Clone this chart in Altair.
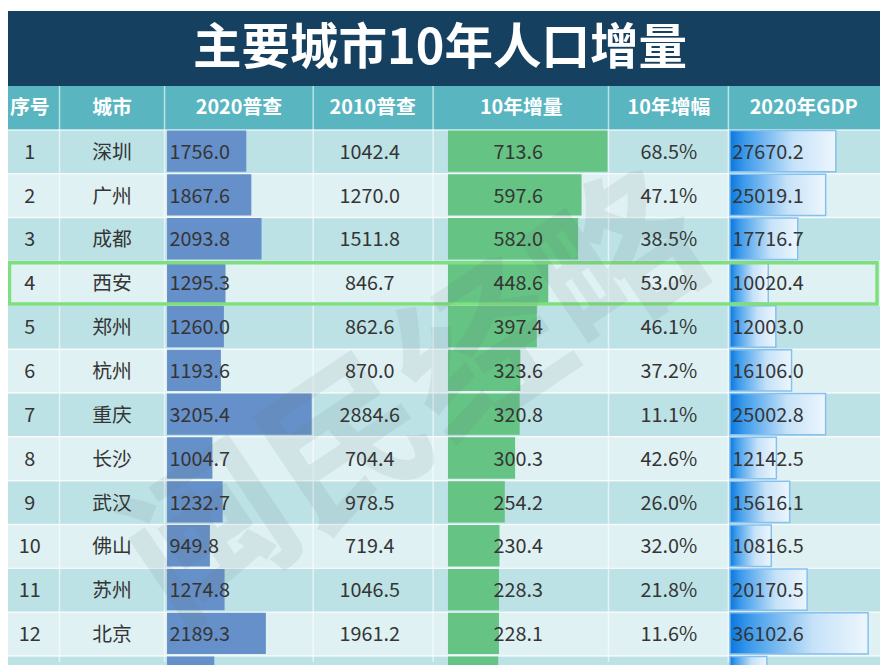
import altair as alt
import pandas as pd

# ---------------- data ----------------
TITLE = "主要城市10年人口增量"
HEADERS = ["序号", "城市", "2020普查", "2010普查", "10年增量", "10年增幅", "2020年GDP"]
RANKS = [1, 2, 3, 4, 5, 6, 7, 8, 9, 10, 11, 12, 13]
CITIES = ["深圳", "广州", "成都", "西安", "郑州", "杭州", "重庆", "长沙", "武汉", "佛山", "苏州", "北京", "东莞"]
POP2020 = [1756.0, 1867.6, 2093.8, 1295.3, 1260.0, 1193.6, 3205.4, 1004.7, 1232.7, 949.8, 1274.8, 2189.3, 1046.7]
POP2010 = [1042.4, 1270.0, 1511.8, 846.7, 862.6, 870.0, 2884.6, 704.4, 978.5, 719.4, 1046.5, 1961.2, 822.0]
INCREASE = [713.6, 597.6, 582.0, 448.6, 397.4, 323.6, 320.8, 300.3, 254.2, 230.4, 228.3, 228.1, 224.7]
GROWTH = [68.5, 47.1, 38.5, 53.0, 46.1, 37.2, 11.1, 42.6, 26.0, 32.0, 21.8, 11.6, 27.3]
GDP = [27670.2, 25019.1, 17716.7, 10020.4, 12003.0, 16106.0, 25002.8, 12142.5, 15616.1, 10816.5, 20170.5, 36102.6, 9650.2]
HIGHLIGHT_RANK = 4
VISIBLE_TEXT_ROWS = 12
WATERMARK = "闽民经略"

# ---------------- layout / style ----------------
W, H = 880, 657
ROW_H = 44.25
TOP = 75.75
YMIN = -TOP / ROW_H
YMAX = (H - TOP) / ROW_H
YS = alt.Scale(domain=[YMIN, YMAX], range=[0, H], zero=False, nice=False)
XL = alt.Scale(domain=[0, W], range=[0, W], zero=False, nice=False)

FONT = "Noto Sans CJK SC"
NAVY = "#16405f"
TEAL = "#59b6c1"
ROW_DARK = "#bde2e6"
ROW_LIGHT = "#dff1f3"
TXT = "#353535"

COL_EDGES = [52, 158, 308, 429, 606, 727]
HEADER_X = [22, 105, 233, 368, 518, 667, 803]

df = pd.DataFrame({
    "rank": RANKS, "city": CITIES, "pop2020": POP2020, "pop2010": POP2010,
    "inc": INCREASE, "pct": GROWTH, "gdp": GDP,
})
df["v"] = df["rank"] + 0.5
df["b0"] = df["rank"] + 0.012
df["b1"] = df["rank"] + 0.955
df["zero"] = 0.0
df["t2020"] = df["pop2020"].map(lambda v: f"{v:.1f}")
df["t2010"] = df["pop2010"].map(lambda v: f"{v:.1f}")
df["tinc"] = df["inc"].map(lambda v: f"{v:.1f}")
df["tpct"] = df["pct"].map(lambda v: f"{v:.1f}%")
df["tgdp"] = df["gdp"].map(lambda v: f"{v:.1f}")
df["rk"] = df["rank"].astype(str)

bands = pd.DataFrame(
    [{"v0": YMIN, "v1": 0, "fill": NAVY}, {"v0": 0, "v1": 1, "fill": TEAL}]
    + [{"v0": r, "v1": r + 1, "fill": ROW_DARK if r % 2 == 1 else ROW_LIGHT} for r in RANKS]
)
row_lines = pd.DataFrame({"v": [r for r in range(1, len(RANKS) + 1)]})
col_lines = pd.DataFrame({"xe": COL_EDGES, "y0": [0.0] * len(COL_EDGES), "y1": [YMAX] * len(COL_EDGES)})
heads = pd.DataFrame({"h": HEADERS, "xc": HEADER_X, "v": [0.5] * len(HEADERS)})


def Y(f):
    return alt.Y(f, type="quantitative", scale=YS, axis=None)


bg = alt.Chart(bands).mark_rect().encode(
    x=alt.value(0), x2=alt.value(W), y=Y("v0"), y2="v1", color=alt.Color("fill:N", scale=None)
)
hlines = alt.Chart(row_lines).mark_rule(color="white", strokeWidth=1.5, opacity=0.75).encode(
    y=Y("v"), x=alt.value(0), x2=alt.value(W)
)
vlines = alt.Chart(col_lines).mark_rule(color="white", strokeWidth=1.5, opacity=0.6).encode(
    x=alt.X("xe:Q", scale=XL, axis=None), y=Y("y0"), y2="y1"
)

base = alt.Chart(df)
blue = base.mark_rect(color="#6690c9").encode(
    x=alt.X("pop2020:Q", scale=alt.Scale(domain=[0, 3205.4], range=[160.5, 306.5], nice=False), axis=None),
    x2="zero:Q", y=Y("b0"), y2="b1",
)
green = base.mark_rect(color="#65c383").encode(
    x=alt.X("inc:Q", scale=alt.Scale(domain=[0, 713.6], range=[444, 605], nice=False), axis=None),
    x2="zero:Q", y=Y("b0"), y2="b1",
)
grad = alt.LinearGradient(
    gradient="linear",
    stops=[
        alt.GradientStop(color="#0a77df", offset=0),
        alt.GradientStop(color="#3f9ceb", offset=0.15),
        alt.GradientStop(color="#c6e2f8", offset=0.6),
        alt.GradientStop(color="#edf6fd", offset=1),
    ],
    x1=0, x2=1, y1=0, y2=0,
)
gdpbar = base.mark_rect(fill=grad, stroke="#86c0ee", strokeWidth=1.5).encode(
    x=alt.X("gdp:Q", scale=alt.Scale(domain=[0, 36102.6], range=[728.5, 868], nice=False), axis=None),
    x2="zero:Q", y=Y("b0"), y2="b1",
)

hl = base.transform_filter(alt.datum.rank == HIGHLIGHT_RANK).transform_calculate(
    h0="datum.rank + 0.03", h1="datum.rank + 0.97"
).mark_rect(fillOpacity=0, stroke="#7ddf7d", strokeWidth=3.5).encode(
    x=alt.value(1.5), x2=alt.value(877), y=Y("h0"), y2="h1"
)

wm = alt.Chart(pd.DataFrame({"t": [WATERMARK]})).mark_text(
    font=FONT, fontSize=165, fontWeight="bold", angle=326, color="#5f7880", opacity=0.11,
    align="center", baseline="middle",
).encode(text="t:N", x=alt.value(414), y=alt.value(396))

title = alt.Chart(pd.DataFrame({"t": [TITLE]})).mark_text(
    font=FONT, fontSize=49, fontWeight="bold", color="white", align="center", baseline="middle"
).encode(text="t:N", x=alt.value(436), y=alt.value(39))

htext = alt.Chart(heads).mark_text(
    font=FONT, fontSize=20, fontWeight="bold", color="white", align="center", baseline="middle"
).encode(text="h:N", x=alt.X("xc:Q", scale=XL, axis=None), y=Y("v"))

tbase = base.transform_filter(alt.datum.rank <= VISIBLE_TEXT_ROWS)


def col_text(field, xpos, align):
    return tbase.mark_text(
        font=FONT, fontSize=20, color=TXT, align=align, baseline="middle", dy=1
    ).encode(text=f"{field}:N", x=alt.value(xpos), y=Y("v"))


texts = [
    col_text("rk", 22, "center"),
    col_text("city", 105, "center"),
    col_text("t2020", 163, "left"),
    col_text("t2010", 365, "center"),
    col_text("tinc", 515, "center"),
    col_text("tpct", 667, "center"),
    col_text("tgdp", 731, "left"),
]

chart = alt.layer(
    bg, hlines, vlines, blue, green, gdpbar, hl, wm, title, htext, *texts
).resolve_scale(x="independent").properties(
    width=W, height=H, padding=0, autosize="none", background="white"
).configure_view(stroke=None)

chart.save("out.html", embed_options={"renderer": "svg", "actions": False})
